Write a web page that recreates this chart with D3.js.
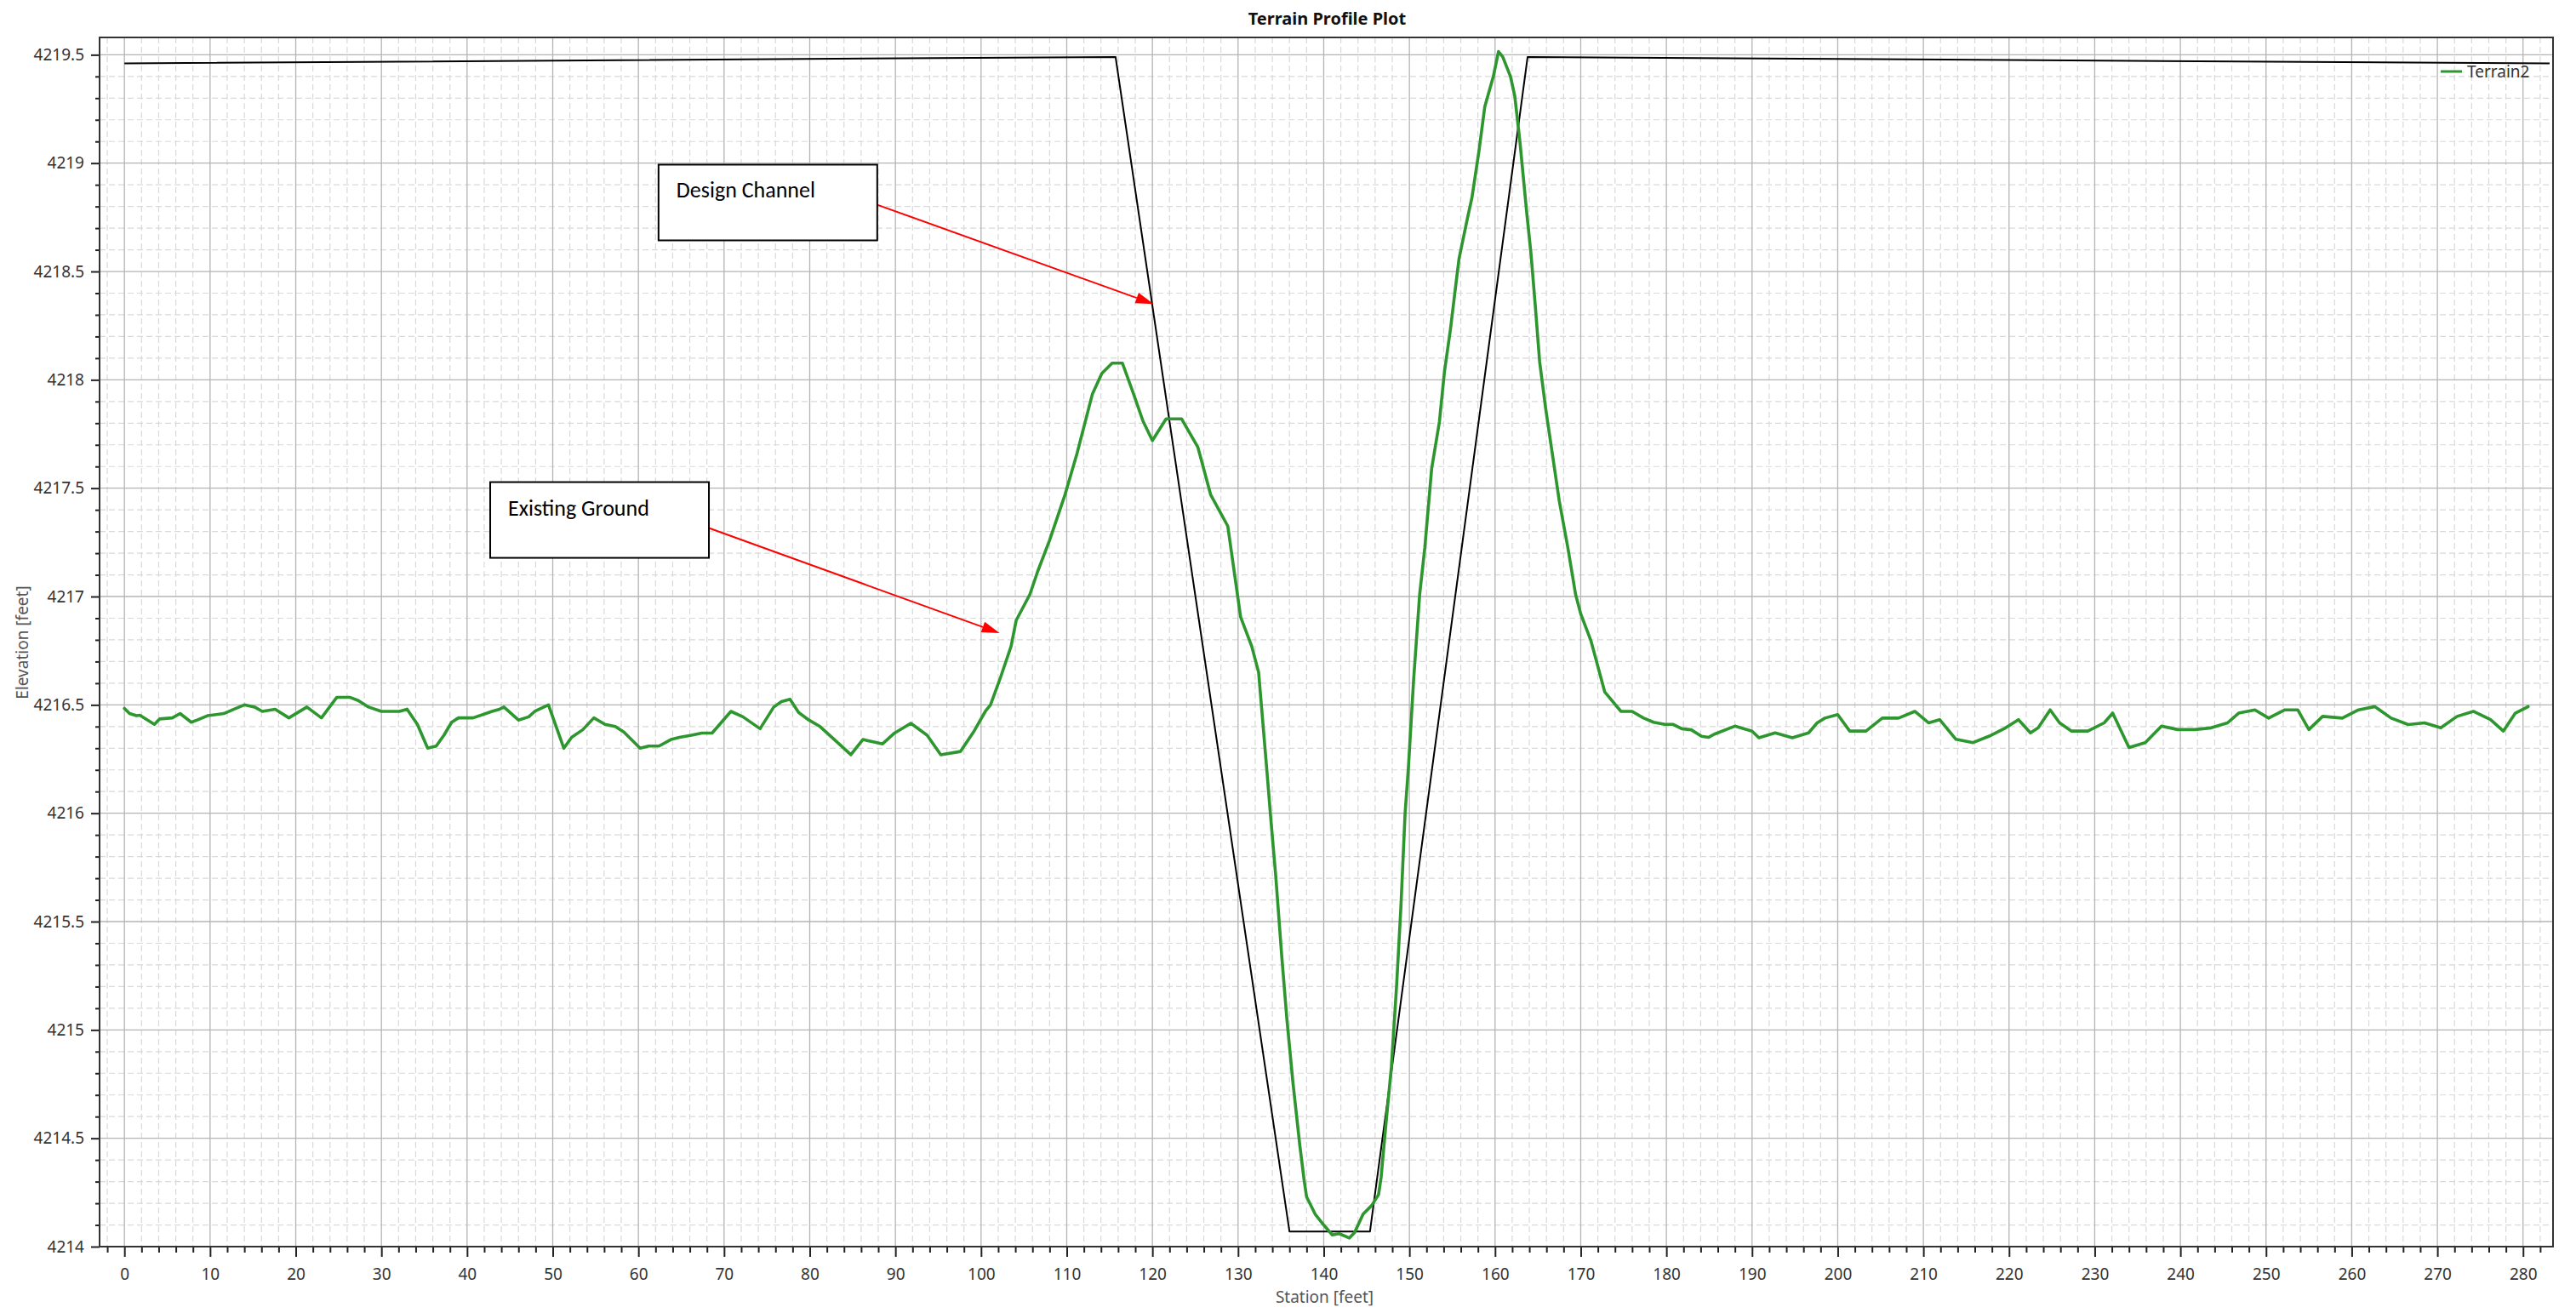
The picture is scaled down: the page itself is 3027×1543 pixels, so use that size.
<!DOCTYPE html>
<html><head><meta charset="utf-8">
<script src="https://cdn.jsdelivr.net/npm/d3@7"></script>
<style>
html,body{margin:0;padding:0;background:#fff;}
svg{display:block;}
</style></head>
<body>
<svg id="chart" width="3027" height="1543"></svg>
<script>
// ---------------- DATA ----------------
const chartTitle = "Terrain Profile Plot";
const xAxisTitle = "Station [feet]";
const yAxisTitle = "Elevation [feet]";
const seriesName = "Terrain2";

// Existing ground (Terrain2) profile
const stations = [
  0, 0.6, 1.4, 1.8, 3.5, 4.1, 5.6, 6.5, 7.8, 8.5, 9.7, 11.6, 12.8, 14.0, 15.2, 16.1, 17.6, 19.2, 21.3, 23.0,
  24.8, 26.3, 27.3, 28.5, 30.0, 32.1, 33.0, 34.2, 35.4, 36.4, 37.3, 38.2, 39.0, 40.7, 42.2, 42.9, 43.8, 44.3,
  46.0, 47.2, 47.9, 49.5, 51.3, 52.2, 53.5, 54.8, 56.1, 57.3, 58.3, 60.2, 61.2, 62.4, 63.8, 64.8, 66.2, 67.4,
  68.6, 70.8, 72.2, 74.2, 75.8, 76.7, 77.7, 78.7, 79.9, 81.2, 82.6, 84.8, 86.2, 87.4, 88.5, 89.9, 91.8, 93.7,
  95.3, 97.6, 99.2, 100.5, 101.1, 102.3, 103.5, 104.1, 105.7, 106.6, 108.0, 109.8, 111.2, 113.0, 114.1, 115.3,
  116.5, 117.8, 118.9, 120.0, 121.6, 123.4, 125.3, 126.8, 128.8, 130.3, 131.6, 132.4, 133.4, 133.8, 134.4,
  135.1, 135.7, 136.4, 137.2, 137.7, 138.0, 139.0, 140.0, 141.0, 141.8, 143.0, 143.6, 144.6, 145.6, 146.4,
  146.7, 147.2, 147.9, 148.5, 149.0, 149.5, 149.9, 150.5, 151.2, 151.8, 152.6, 153.5, 154.1, 154.8, 155.3,
  155.8, 156.8, 157.3, 158.1, 158.8, 159.8, 160.4, 160.9, 161.8, 162.3, 162.9, 163.7, 164.2, 164.7, 165.2,
  165.9, 166.7, 167.5, 168.5, 169.4, 170.0, 171.2, 172.8, 174.7, 176.0, 177.3, 178.5, 179.8, 180.8, 181.8,
  182.9, 184.1, 184.9, 185.6, 186.0, 188.0, 190.0, 190.8, 192.7, 194.7, 196.6, 197.6, 198.5, 200.0, 201.4,
  203.3, 205.2, 207.1, 209.0, 210.6, 211.9, 213.8, 215.8, 217.7, 219.6, 221.1, 222.5, 223.4, 224.8, 225.9,
  227.3, 229.2, 231.1, 232.1, 234.0, 235.9, 237.8, 239.7, 241.7, 243.6, 245.5, 246.8, 248.7, 250.3, 252.2,
  253.7, 255.0, 256.6, 258.9, 260.8, 262.7, 264.6, 266.6, 268.5, 270.4, 272.3, 274.2, 276.2, 277.7, 279.1, 280.6
];
const elevations = [
  4216.484, 4216.46, 4216.45, 4216.452, 4216.41, 4216.435, 4216.44, 4216.46, 4216.42, 4216.43, 4216.45, 4216.46,
  4216.48, 4216.50, 4216.49, 4216.47, 4216.48, 4216.44, 4216.49, 4216.44, 4216.535, 4216.535, 4216.52, 4216.49,
  4216.47, 4216.47, 4216.48, 4216.41, 4216.30, 4216.31, 4216.36, 4216.42, 4216.44, 4216.44, 4216.46, 4216.47,
  4216.48, 4216.49, 4216.43, 4216.445, 4216.47, 4216.50, 4216.30, 4216.35, 4216.385, 4216.44, 4216.41, 4216.40,
  4216.375, 4216.30, 4216.31, 4216.31, 4216.34, 4216.35, 4216.36, 4216.37, 4216.37, 4216.47, 4216.445, 4216.39,
  4216.49, 4216.515, 4216.526, 4216.465, 4216.43, 4216.40, 4216.35, 4216.27, 4216.34, 4216.33, 4216.32, 4216.37,
  4216.415, 4216.36, 4216.27, 4216.285, 4216.38, 4216.47, 4216.50, 4216.63, 4216.77, 4216.89, 4217.01, 4217.115,
  4217.26, 4217.47, 4217.66, 4217.935, 4218.03, 4218.077, 4218.077, 4217.935, 4217.81, 4217.72, 4217.82, 4217.82,
  4217.69, 4217.47, 4217.325, 4216.905, 4216.77, 4216.65, 4216.18, 4215.985, 4215.71, 4215.34, 4215.05, 4214.76,
  4214.47, 4214.31, 4214.23, 4214.15, 4214.10, 4214.054, 4214.06, 4214.04, 4214.065, 4214.15, 4214.19, 4214.24,
  4214.32, 4214.54, 4214.83, 4215.20, 4215.56, 4216.00, 4216.22, 4216.62, 4217.01, 4217.225, 4217.59, 4217.805,
  4218.04, 4218.235, 4218.40, 4218.56, 4218.75, 4218.84, 4219.05, 4219.26, 4219.40, 4219.515, 4219.49, 4219.40,
  4219.31, 4219.10, 4218.77, 4218.58, 4218.34, 4218.085, 4217.87, 4217.655, 4217.44, 4217.225, 4217.01, 4216.92,
  4216.795, 4216.56, 4216.47, 4216.47, 4216.44, 4216.42, 4216.41, 4216.41, 4216.39, 4216.385, 4216.355, 4216.35,
  4216.365, 4216.371, 4216.402, 4216.379, 4216.348, 4216.371, 4216.348, 4216.371, 4216.417, 4216.439, 4216.455,
  4216.379, 4216.379, 4216.439, 4216.439, 4216.470, 4216.417, 4216.432, 4216.341, 4216.326, 4216.356, 4216.394,
  4216.432, 4216.371, 4216.394, 4216.477, 4216.417, 4216.379, 4216.379, 4216.417, 4216.462, 4216.303, 4216.326,
  4216.402, 4216.386, 4216.386, 4216.394, 4216.417, 4216.462, 4216.477, 4216.439, 4216.477, 4216.477, 4216.386,
  4216.447, 4216.439, 4216.477, 4216.492, 4216.439, 4216.409, 4216.417, 4216.394, 4216.447, 4216.470, 4216.432,
  4216.379, 4216.462, 4216.492
];

// Design channel template
const designStations   = [0, 115.7, 136.0, 145.4, 163.8, 283.1];
const designElevations = [4219.46, 4219.49, 4214.07, 4214.07, 4219.49, 4219.46];

// Axis ticks
const xTickValues = [0, 10, 20, 30, 40, 50, 60, 70, 80, 90, 100, 110, 120, 130, 140, 150, 160, 170, 180, 190, 200,
  210, 220, 230, 240, 250, 260, 270, 280];
const yTickValues = [4214, 4214.5, 4215, 4215.5, 4216, 4216.5, 4217, 4217.5, 4218, 4218.5, 4219, 4219.5];
const yTickLabels = ["4214", "4214.5", "4215", "4215.5", "4216", "4216.5", "4217", "4217.5", "4218", "4218.5", "4219", "4219.5"];

// Callout annotations (data coordinates)
const annotationTexts = ["Design Channel", "Existing Ground"];
const annotationBoxStations = [62.35, 42.70];
const annotationBoxElevations = [4218.993, 4217.528];
const annotationTailStations = [87.87, 68.22];
const annotationTailElevations = [4218.808, 4217.316];
const annotationTipStations = [120.14, 102.17];
const annotationTipElevations = [4218.350, 4216.831];

// ---------------- LAYOUT ----------------
const W = 3027, H = 1543;
const plot = {left: 117, right: 3000, top: 44, bottom: 1465};
const FONT = "'Noto Sans', 'Open Sans', sans-serif";
const GREEN = "#2e962e";

const svg = d3.select("#chart");
svg.append("rect").attr("width", W).attr("height", H).attr("fill", "#fff");

const x = d3.scaleLinear().domain([-2.9, 283.5]).range([plot.left, plot.right]);
const y = d3.scaleLinear().domain([4214, 4219.58]).range([plot.bottom, plot.top]);

const xMinor = d3.range(-2, 284, 2).filter(v => v % 10 !== 0);
const yMinor = d3.range(0, 56).filter(i => i % 5 !== 0).map(i => 4214 + i * 0.1);

// grid
const grid = svg.append("g");
grid.selectAll(".xm").data(xMinor).join("line")
  .attr("x1", d => x(d)).attr("x2", d => x(d)).attr("y1", plot.top).attr("y2", plot.bottom)
  .attr("stroke", "#d9d9d9").attr("stroke-width", 1.2).attr("stroke-dasharray", "7,4");
grid.selectAll(".ym").data(yMinor).join("line")
  .attr("y1", d => y(d)).attr("y2", d => y(d)).attr("x1", plot.left).attr("x2", plot.right)
  .attr("stroke", "#d9d9d9").attr("stroke-width", 1.2).attr("stroke-dasharray", "7,4");
grid.selectAll(".xM").data(xTickValues).join("line")
  .attr("x1", d => x(d)).attr("x2", d => x(d)).attr("y1", plot.top).attr("y2", plot.bottom)
  .attr("stroke", "#b4b4b4").attr("stroke-width", 1.3);
grid.selectAll(".yM").data(yTickValues).join("line")
  .attr("y1", d => y(d)).attr("y2", d => y(d)).attr("x1", plot.left).attr("x2", plot.right)
  .attr("stroke", "#b4b4b4").attr("stroke-width", 1.3);

// axes (d3 axis generators)
const xAxisMajor = d3.axisBottom(x).tickValues(xTickValues).tickSize(12).tickPadding(14).tickFormat(d3.format("d"));
const xAxisMinor = d3.axisBottom(x).tickValues(xMinor).tickSize(7).tickFormat("");
const yAxisMajor = d3.axisLeft(y).tickValues(yTickValues).tickSize(10).tickPadding(8)
  .tickFormat((d, i) => yTickLabels[i]);
const yAxisMinor = d3.axisLeft(y).tickValues(yMinor).tickSize(5).tickFormat("");

function styleAxis(g) {
  g.select(".domain").remove();
  g.selectAll(".tick line").attr("stroke", "#222").attr("stroke-width", 2);
  g.selectAll(".tick text").attr("fill", "#333").style("font-family", FONT).style("font-size", "19px");
}
svg.append("g").attr("transform", `translate(0,${plot.bottom})`).call(xAxisMinor).call(styleAxis);
svg.append("g").attr("transform", `translate(0,${plot.bottom})`).call(xAxisMajor).call(styleAxis);
svg.append("g").attr("transform", `translate(${plot.left},0)`).call(yAxisMinor).call(styleAxis);
svg.append("g").attr("transform", `translate(${plot.left},0)`).call(yAxisMajor).call(styleAxis);

// frame
svg.append("rect").attr("x", plot.left).attr("y", plot.top)
  .attr("width", plot.right - plot.left).attr("height", plot.bottom - plot.top)
  .attr("fill", "none").attr("stroke", "#333").attr("stroke-width", 2);

// lines
const line = d3.line().x(d => x(d[0])).y(d => y(d[1]));
svg.append("path").datum(designStations.map((s, i) => [s, designElevations[i]]))
  .attr("d", line).attr("fill", "none").attr("stroke", "#000").attr("stroke-width", 2)
  .attr("stroke-linejoin", "round");
svg.append("path").datum(stations.map((s, i) => [s, elevations[i]]))
  .attr("d", line).attr("fill", "none").attr("stroke", GREEN).attr("stroke-width", 3.6)
  .attr("stroke-linejoin", "round").attr("stroke-linecap", "round");

// title
svg.append("text").attr("x", (plot.left + plot.right) / 2 + 1).attr("y", 29)
  .attr("text-anchor", "middle").style("font-family", FONT).style("font-weight", "bold")
  .style("font-size", "20px").attr("fill", "#111").text(chartTitle);

// axis titles
svg.append("text").attr("x", (plot.left + plot.right) / 2 - 2).attr("y", 1531)
  .attr("text-anchor", "middle").style("font-family", FONT).style("font-size", "19px")
  .attr("fill", "#555").text(xAxisTitle);
svg.append("text").attr("transform", `translate(33,755) rotate(-90)`)
  .attr("text-anchor", "middle").style("font-family", FONT).style("font-size", "19px")
  .attr("fill", "#555").text(yAxisTitle);

// legend
const lg = svg.append("g");
lg.append("line").attr("x1", 2868).attr("x2", 2893).attr("y1", 84).attr("y2", 84)
  .attr("stroke", GREEN).attr("stroke-width", 3);
lg.append("text").attr("x", 2899).attr("y", 91).style("font-family", FONT).style("font-size", "19px")
  .attr("fill", "#333").text(seriesName);

// annotations
const ann = svg.append("g");
annotationTexts.forEach((t, i) => {
  const bx = x(annotationBoxStations[i]), by = y(annotationBoxElevations[i]);
  const tx = x(annotationTailStations[i]), ty = y(annotationTailElevations[i]);
  const px = x(annotationTipStations[i]), py = y(annotationTipElevations[i]);
  const ang = Math.atan2(py - ty, px - tx);
  const L = 21, Wd = 6.5;
  const bxh = px - L * Math.cos(ang), byh = py - L * Math.sin(ang);
  ann.append("line").attr("x1", tx).attr("y1", ty).attr("x2", bxh).attr("y2", byh)
    .attr("stroke", "#ff0000").attr("stroke-width", 2);
  const p1 = [bxh + Wd * Math.sin(ang), byh - Wd * Math.cos(ang)];
  const p2 = [bxh - Wd * Math.sin(ang), byh + Wd * Math.cos(ang)];
  ann.append("path").attr("d", `M${px},${py}L${p1[0]},${p1[1]}L${p2[0]},${p2[1]}Z`).attr("fill", "#ff0000");
  ann.append("rect").attr("x", bx).attr("y", by).attr("width", 257).attr("height", 89)
    .attr("fill", "#fff").attr("stroke", "#000").attr("stroke-width", 2);
  ann.append("text").attr("x", bx + 21).attr("y", by + 39)
    .style("font-family", "Carlito, Calibri, Lato, sans-serif").style("font-size", "26px")
    .attr("fill", "#000").text(t);
});
</script>
</body></html>
